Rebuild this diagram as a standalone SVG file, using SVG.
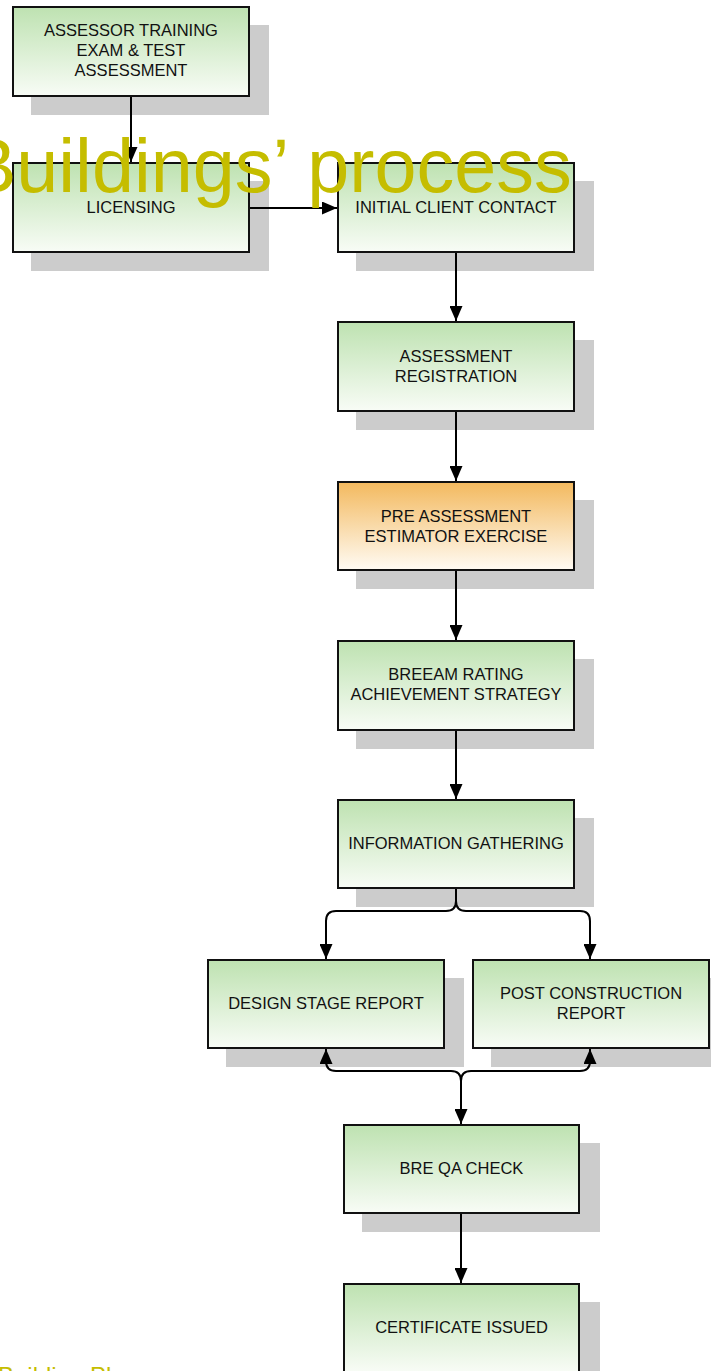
<svg xmlns="http://www.w3.org/2000/svg" width="711" height="1371" viewBox="0 0 711 1371">
<style>
.shadow{fill:#cccccc}
.box{stroke:#111111;stroke-width:2}
.g{fill:url(#gGreen)}
.o{fill:url(#gOrange)}
.lbl{font-family:"Liberation Sans",Arial,sans-serif;font-size:16.5px;fill:#111111;text-anchor:middle}
.con{fill:none;stroke:#000000;stroke-width:2}
.title{font-family:"Liberation Sans",Arial,sans-serif;fill:#c5bd00}
</style>
<defs>
<linearGradient id="gGreen" x1="0" y1="0" x2="0" y2="1">
<stop offset="0" stop-color="#bee2b1"/>
<stop offset="1" stop-color="#f8fcf6"/>
</linearGradient>
<linearGradient id="gOrange" x1="0" y1="0" x2="0" y2="1">
<stop offset="0" stop-color="#f3b95e"/>
<stop offset="1" stop-color="#fffbf4"/>
</linearGradient>
<marker id="arr" markerUnits="userSpaceOnUse" markerWidth="15" markerHeight="13" refX="15" refY="6.5" orient="auto-start-reverse">
<path d="M0,0 L15,6.5 L0,13 Z" fill="#000000"/>
</marker>
</defs>
<rect width="711" height="1371" fill="#ffffff"/>

<g id="n-assessor">
<rect class="shadow" x="31" y="25" width="238" height="90"/>
<rect class="box g" x="13" y="7" width="236" height="89"/>
<text class="lbl" x="131" y="36">ASSESSOR TRAINING</text>
<text class="lbl" x="131" y="56">EXAM &amp; TEST</text>
<text class="lbl" x="131" y="76">ASSESSMENT</text>
</g>

<g id="n-licensing">
<rect class="shadow" x="31" y="181" width="238" height="90"/>
<rect class="box g" x="13" y="163" width="236" height="89"/>
<text class="lbl" x="131" y="212.5">LICENSING</text>
</g>

<g id="n-initial">
<rect class="shadow" x="356" y="181" width="238" height="90"/>
<rect class="box g" x="338" y="163" width="236" height="89"/>
<text class="lbl" x="456" y="212.5">INITIAL CLIENT CONTACT</text>
</g>

<g id="n-registration">
<rect class="shadow" x="356" y="340" width="238" height="90"/>
<rect class="box g" x="338" y="322" width="236" height="89"/>
<text class="lbl" x="456" y="362">ASSESSMENT</text>
<text class="lbl" x="456" y="382">REGISTRATION</text>
</g>

<g id="n-preassessment">
<rect class="shadow" x="356" y="500" width="238" height="89"/>
<rect class="box o" x="338" y="482" width="236" height="88"/>
<text class="lbl" x="456" y="521.5">PRE ASSESSMENT</text>
<text class="lbl" x="456" y="541.5">ESTIMATOR EXERCISE</text>
</g>

<g id="n-rating">
<rect class="shadow" x="356" y="659" width="238" height="90"/>
<rect class="box g" x="338" y="641" width="236" height="89"/>
<text class="lbl" x="456" y="680">BREEAM RATING</text>
<text class="lbl" x="456" y="700">ACHIEVEMENT STRATEGY</text>
</g>

<g id="n-information">
<rect class="shadow" x="356" y="818" width="238" height="89"/>
<rect class="box g" x="338" y="800" width="236" height="88"/>
<text class="lbl" x="456" y="849">INFORMATION GATHERING</text>
</g>

<g id="n-design">
<rect class="shadow" x="226" y="978" width="238" height="89"/>
<rect class="box g" x="208" y="960" width="236" height="88"/>
<text class="lbl" x="326" y="1008.5">DESIGN STAGE REPORT</text>
</g>

<g id="n-post">
<rect class="shadow" x="491" y="978" width="238" height="89"/>
<rect class="box g" x="473" y="960" width="236" height="88"/>
<text class="lbl" x="591" y="999">POST CONSTRUCTION</text>
<text class="lbl" x="591" y="1019">REPORT</text>
</g>

<g id="n-qa">
<rect class="shadow" x="362" y="1143" width="238" height="89"/>
<rect class="box g" x="344" y="1125" width="235" height="88"/>
<text class="lbl" x="461.5" y="1174">BRE QA CHECK</text>
</g>

<g id="n-certificate">
<rect class="shadow" x="362" y="1302" width="238" height="89"/>
<rect class="box g" x="344" y="1284" width="235" height="88"/>
<text class="lbl" x="461.5" y="1333">CERTIFICATE ISSUED</text>
</g>

<g id="connectors">
<path class="con" d="M131,97 V162" marker-end="url(#arr)"/>
<path class="con" d="M250,208 H337" marker-end="url(#arr)"/>
<path class="con" d="M456,253 V321" marker-end="url(#arr)"/>
<path class="con" d="M456,412 V481" marker-end="url(#arr)"/>
<path class="con" d="M456,571 V640" marker-end="url(#arr)"/>
<path class="con" d="M456,731 V799" marker-end="url(#arr)"/>
<path class="con" d="M456,889 V901 Q456,911 446,911 H336 Q326,911 326,921 V959" marker-end="url(#arr)"/>
<path class="con" d="M456,901 Q456,911 466,911 H580 Q590,911 590,921 V959" marker-end="url(#arr)"/>
<path class="con" d="M326,1049 V1061 Q326,1071 336,1071 H451 Q461,1071 461,1081 V1124" marker-start="url(#arr)" marker-end="url(#arr)"/>
<path class="con" d="M590,1049 V1061 Q590,1071 580,1071 H471 Q461,1071 461,1081" marker-start="url(#arr)"/>
<path class="con" d="M461,1214 V1283" marker-end="url(#arr)"/>
</g>

<text class="title" x="-34" y="192" font-size="75.5">Buildings’ process</text>
<text class="title" x="-2" y="1384" font-size="24">Building Plan</text>
</svg>
